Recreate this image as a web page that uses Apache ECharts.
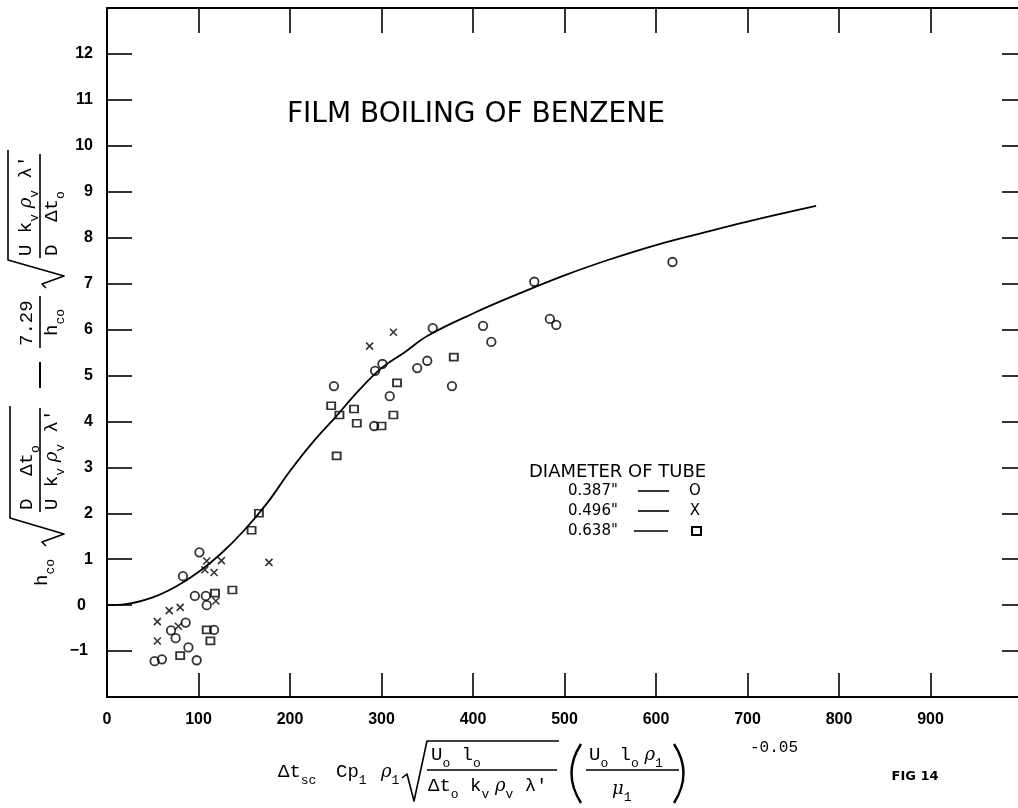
<!DOCTYPE html>
<html><head><meta charset="utf-8">
<script src="https://cdn.jsdelivr.net/npm/echarts@6/dist/echarts.min.js"></script>
<style>html,body{margin:0;padding:0;background:#fff}#c{width:1018px;height:808px}</style>
</head><body><div id="c"></div>
<script>
// ---- data ----
const xTickValues = [0,100,200,300,400,500,600,700,800,900];
const yTickValues = [-1,0,1,2,3,4,5,6,7,8,9,10,11,12];
const curve = [[0,0],[20,0.02],[50,0.17],[75,0.4],[100,0.72],[125,1.13],[150,1.63],[175,2.22],[200,2.92],[225,3.55],[250,4.1],[275,4.67],[300,5.16],[325,5.5],[350,5.86],[400,6.35],[450,6.78],[500,7.18],[550,7.53],[600,7.84],[650,8.1],[700,8.35],[775,8.69]];
const tube387 = [[83,0.63],[101,1.15],[96,0.2],[108,0.2],[109,0.0],[86,-0.38],[70,-0.55],[75,-0.72],[89,-0.92],[98,-1.2],[52,-1.22],[60,-1.18],[117,-0.54],[248,4.77],[292,3.9],[293,5.1],[301,5.25],[309,4.55],[339,5.16],[350,5.32],[356,6.03],[377,4.77],[411,6.08],[420,5.73],[467,7.04],[484,6.23],[491,6.1],[618,7.47]];
const tube496 = [[55,-0.36],[55,-0.78],[68,-0.12],[80,-0.05],[78,-0.46],[107,0.77],[117,0.71],[109,0.96],[125,0.97],[177,0.93],[119,0.09],[287,5.64],[313,5.94]];
const tube638 = [[109,-0.54],[113,-0.78],[118,0.26],[137,0.33],[80,-1.1],[158,1.63],[166,2.0],[245,4.34],[254,4.14],[270,4.27],[273,3.96],[251,3.25],[300,3.9],[317,4.84],[313,4.14],[379,5.4]];
const legendLabels = ['0.387"', '0.496"', '0.638"'];
const titleText = 'FILM BOILING OF BENZENE';

// ---- styling ----
const K = '#000';
const LBL = {fontFamily:'Liberation Sans', fontWeight:'bold', fontSize:16, color:K};
const rich = {
  m:{fontFamily:'Liberation Mono', fontSize:19, lineHeight:30, verticalAlign:'middle'},
  s:{fontFamily:'Liberation Mono', fontSize:13, lineHeight:16, verticalAlign:'bottom'},
  g:{fontFamily:'DejaVu Serif', fontStyle:'italic', fontSize:18, lineHeight:30, verticalAlign:'middle'}
};
function T(x,y,text,extra){
  const st = Object.assign({text:text, fill:K, align:'left', verticalAlign:'middle', textAlign:'left', textVerticalAlign:'middle', rich:rich, fontFamily:'Liberation Mono', fontSize:19}, extra||{});
  return {type:'text', x:x, y:y, silent:true, style:st};
}
function L(pts,w){
  return {type:'polyline', silent:true, shape:{points:pts}, style:{stroke:K, fill:null, lineWidth:w||1.6, lineJoin:'round'}};
}
function P(x1,y1,cx,cy,x2,y2){
  return {type:'bezierCurve', silent:true, shape:{x1:x1,y1:y1,x2:x2,y2:y2,cpx1:cx,cpy1:cy}, style:{stroke:K, fill:null, lineWidth:2.4}};
}
const numDen1 = '{m|U k}{s|v}{g| ρ}{s|v}{m| λ′}';
const dAt = '{m|D  Δt}{s|o}';
const hco = '{m|h}{s|co}';

// rotated y-axis title (local: lx along text, ly toward screen right)
const yTitle = {
  type:'group', x:40, y:600, rotation:Math.PI/2, silent:true,
  children:[
    T(14,2,hco),
    L([[54,6],[58,2],[66,24],[82,-30],[194,-30]],1.6),
    T(90,-13,dAt),
    L([[88,0],[192,0]],1.6),
    T(90,12,numDen1),
    L([[212,0],[238,0]],2),
    T(254,-13,'{m|7.29}'),
    L([[252,0],[304,0]],1.6),
    T(264,12,hco),
    L([[312,6],[316,2],[324,24],[340,-32],[450,-32]],1.6),
    T(344,-14,numDen1),
    L([[342,0],[446,0]],1.6),
    T(344,12,dAt)
  ]
};

const xTitle = [
  T(278,772,'{m|Δt}{s|sc}'),
  T(336,772,'{m|Cp}{s|1}'),
  T(381,772,'{g|ρ}{s|1}'),
  L([[402,778],[407,774],[414,801],[427,741],[559,741]],1.6),
  T(431,755,'{m|U}{s|o}{m| l}{s|o}'),
  L([[427,770],[557,770]],1.6),
  T(428,786,'{m|Δt}{s|o}{m| k}{s|v}{g| ρ}{s|v}{m| λ′}'),
  P(581,744,562,773,581,803),
  T(589,755,'{m|U}{s|o}{m| l}{s|o}{g| ρ}{s|1}'),
  L([[586,770],[679,770]],1.6),
  T(612,789,'{g|μ}{s|1}'),
  P(674,744,693,773,674,803),
  T(750,748,'-0.05',{fontSize:16, rich:null}),
  T(915,777,'FIG 14',{fontFamily:'DejaVu Sans', fontWeight:'bold', fontSize:13, align:'center', textAlign:'center', rich:null})
];

const legendEls = [
  T(529,472,'DIAMETER OF TUBE',{fontFamily:'DejaVu Sans', fontSize:18, rich:null}),
  T(568,491,legendLabels[0],{fontFamily:'DejaVu Sans', fontSize:15, rich:null}),
  L([[638,491],[669,491]],1.6),
  T(695,491,'O',{fontFamily:'DejaVu Sans', fontSize:15, align:'center', textAlign:'center', rich:null}),
  T(568,511,legendLabels[1],{fontFamily:'DejaVu Sans', fontSize:15, rich:null}),
  L([[638,511],[669,511]],1.6),
  T(695,511,'X',{fontFamily:'DejaVu Sans', fontSize:15, align:'center', textAlign:'center', rich:null}),
  T(568,531,legendLabels[2],{fontFamily:'DejaVu Sans', fontSize:15, rich:null}),
  L([[634,531],[668,531]],1.6),
  {type:'rect', silent:true, shape:{x:692,y:527,width:9,height:8}, style:{stroke:K, fill:null, lineWidth:2}}
];

const titleEl = T(287,115,titleText,{fontFamily:'DejaVu Sans', fontSize:28, rich:null});

const hollow = {color:'rgba(0,0,0,0)', borderColor:K, borderWidth:1.8};
function fmtY(v){
  if (yTickValues.indexOf(v) < 0) return '';
  if (v === 0) return '{z|0}';
  if (v === -1) return '{n|−1}';
  return String(v);
}
const axisBase = (pos,len,labels,idx) => ({
  type:'value', position:pos, min: idx==='x'?0:-2, max: idx==='x'?1000:13, interval: idx==='x'?100:1,
  axisLine:{show:true, onZero:false, lineStyle:{color:K, width:2}},
  axisTick:{show:true, inside:true, length:len, lineStyle:{color:K, width:1.6}},
  splitLine:{show:false},
  axisLabel: labels ? Object.assign({}, LBL, {margin: idx==='x'?15:14,
     rich:{z:Object.assign({},LBL,{padding:[0,7,0,0]}), n:Object.assign({},LBL,{padding:[0,5,0,0]})},
     formatter: v => idx==='x' ? (xTickValues.indexOf(v) >= 0 ? String(v) : '') : fmtY(v)}) : {show:false}
});

const chart = echarts.init(document.getElementById('c'), null, {renderer:'canvas'});
chart.setOption({
  animation:false,
  backgroundColor:'#fff',
  grid:{left:107, width:915, top:8, bottom:111, containLabel:false, outerBoundsMode:'none'},
  xAxis:[axisBase('bottom',24,true,'x'), axisBase('top',25,false,'x')],
  yAxis:[axisBase('left',25,true,'y'), axisBase('right',20,false,'y')],
  series:[
    {type:'line', name:'curve', data:curve, smooth:0.4, showSymbol:false, silent:true, lineStyle:{color:K, width:1.8}},
    {type:'scatter', name:legendLabels[0], data:tube387, symbol:'circle', symbolSize:8.5, itemStyle:hollow, silent:true},
    {type:'scatter', name:legendLabels[1], data:tube496, symbol:'path://M0,0L10,10M10,0L0,10', symbolSize:7, itemStyle:{color:'rgba(0,0,0,0)', borderColor:K, borderWidth:1.6}, silent:true},
    {type:'scatter', name:legendLabels[2], data:tube638, symbol:'rect', symbolSize:[8,7], itemStyle:hollow, silent:true}
  ],
  graphic:[titleEl, yTitle].concat(xTitle, legendEls)
});
</script>
</body></html>
